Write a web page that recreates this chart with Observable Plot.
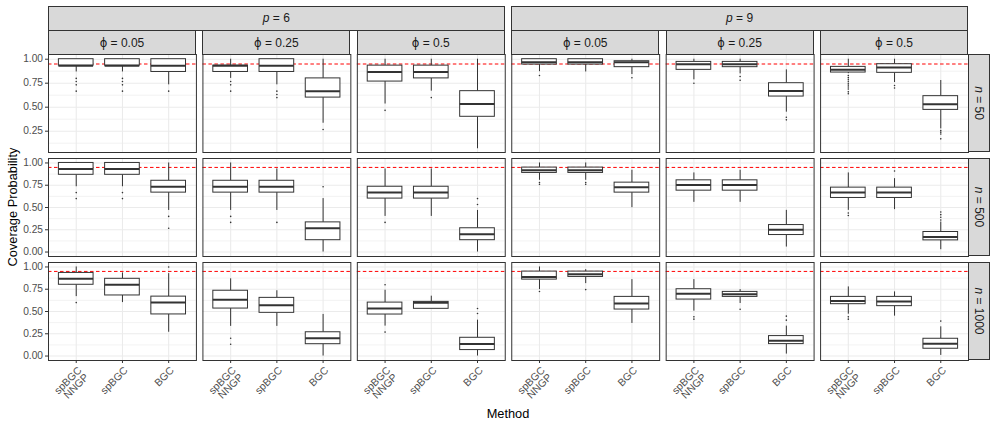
<!DOCTYPE html>
<html><head><meta charset="utf-8">
<script src="https://cdn.jsdelivr.net/npm/d3@7"></script>
<script src="https://cdn.jsdelivr.net/npm/@observablehq/plot@0.6"></script>
<style>
body{margin:0;background:#fff;}
#chart{position:relative;width:996px;height:427px;font-family:"Liberation Sans",Arial,Helvetica,sans-serif;background:#fff;overflow:hidden;}
#chart svg{position:absolute;left:0;overflow:visible;}
.strip{position:absolute;background:#D9D9D9;border:1px solid #333;box-sizing:border-box;display:flex;align-items:center;justify-content:center;font-size:12px;color:#1A1A1A;white-space:nowrap;}
.vstrip span{display:inline-block;transform:rotate(90deg);}
.phi{font-family:"DejaVu Sans",sans-serif;font-size:11.5px;}
.title{position:absolute;font-size:12.8px;color:#000;white-space:nowrap;}
</style>
</head><body><div id="chart"></div>
<script>
const methods = ["spBGC\nNNGP", "spBGC", "BGC"];
const pLevels = [6, 9];
const phiLevels = [0.05, 0.25, 0.5];
const nLevels = [50, 500, 1000];
const nominal = 0.95;
const yTickValues = [0, 0.25, 0.5, 0.75, 1];
const yMinorValues = [0.125, 0.375, 0.625, 0.875];

// order within each n row: p=6 (phi .05, .25, .5), p=9 (phi .05, .25, .5); methods inside
const whiskerLow = [
  0.867,0.867,0.733, 0.8,0.733,0.333, 0.533,0.667,0.067, 0.87,0.867,0.84, 0.785,0.847,0.448, 0.85,0.757,0.274,
  0.733,0.733,0.467, 0.467,0.467,0, 0.4,0.4,0, 0.805,0.805,0.498, 0.558,0.558,0.056, 0.468,0.476,0.026,
  0.667,0.6,0.267, 0.333,0.333,0, 0.336,0.53,0, 0.746,0.813,0.366, 0.504,0.59,0.022, 0.47,0.448,0.007
];
const q1 = [
  0.933,0.933,0.867, 0.867,0.867,0.6, 0.767,0.8,0.4, 0.944,0.944,0.917, 0.889,0.917,0.611, 0.861,0.858,0.472,
  0.867,0.867,0.667, 0.667,0.667,0.133, 0.6,0.6,0.133, 0.888,0.888,0.667, 0.689,0.689,0.191, 0.607,0.607,0.131,
  0.8,0.68,0.467, 0.533,0.485,0.133, 0.466,0.53,0.067, 0.858,0.888,0.522, 0.634,0.664,0.134, 0.582,0.56,0.082
];
const median = [
  0.933,0.933,0.933, 0.933,0.933,0.667, 0.867,0.867,0.533, 0.967,0.967,0.967, 0.948,0.948,0.67, 0.889,0.913,0.531,
  0.933,0.933,0.733, 0.733,0.733,0.267, 0.667,0.667,0.2, 0.918,0.918,0.727, 0.753,0.753,0.251, 0.667,0.667,0.169,
  0.867,0.8,0.6, 0.633,0.571,0.2, 0.534,0.597,0.134, 0.888,0.918,0.59, 0.698,0.694,0.172, 0.619,0.612,0.138
];
const q3 = [
  1,1,1, 0.933,1,0.8, 0.933,0.933,0.667, 1,1,0.979, 0.972,0.972,0.75, 0.92,0.948,0.615,
  1,1,0.8, 0.8,0.8,0.333, 0.733,0.733,0.267, 0.948,0.948,0.779, 0.805,0.805,0.303, 0.723,0.723,0.225,
  0.933,0.867,0.667, 0.733,0.653,0.267, 0.6,0.608,0.205, 0.948,0.948,0.664, 0.75,0.72,0.224, 0.664,0.664,0.194
];
const whiskerHigh = [
  1,1,1, 1,1,1, 1,1,1, 1,1,1, 1,1,0.889, 1,1,0.778,
  1,1,1, 1,0.933,0.6, 0.933,0.933,0.467, 1,1,0.918, 0.888,0.918,0.468, 0.888,0.824,0.337,
  1,0.933,0.925, 0.867,0.733,0.467, 0.739,0.672,0.403, 1,0.97,0.858, 0.858,0.746,0.336, 0.776,0.72,0.328
];
const outliers = [
  [0.8,0.767,0.733,0.667],[0.8,0.767,0.733,0.667],[0.667], [0.767,0.733,0.667],[0.667,0.633,0.6],[0.267], [0.467],[0.6],[], [0.83],[],[0.806], [0.75],[0.82,0.78],[0.396,0.368], [0.83,0.81,0.79,0.77,0.75,0.73,0.71,0.69,0.66,0.64],[0.726,0.7],[0.257,0.24,0.22,0.17],
  [0.667,0.6],[0.667,0.6],[0.4,0.267], [0.4,0.333],[0.333],[0.733], [0.333],[],[0.6,0.533], [0.78,0.76],[0.78,0.76],[], [],[],[], [0.438,0.41],[0.91],[0.45,0.42,0.39,0.36],
  [0.6],[],[1], [0.2,0.133],[],[], [0.8,0.269],[],[0.534,0.478], [0.724],[0.746],[], [0.44,0.414],[0.526],[0.448,0.403], [0.44,0.414],[],[0.392]
];

const panelKeys = [];
pLevels.forEach(p => phiLevels.forEach(phi => panelKeys.push(`p${p}_phi${phi}`)));

const chart = document.getElementById("chart");
const FONT = '"Liberation Sans",Arial,Helvetica,sans-serif';
const rows = [
  {svgTop: 50, mt: 4, mb: 4, ph: 98, domain: [0.028, 1.049]},
  {svgTop: 154, mt: 4, mb: 4, ph: 98, domain: [-0.05, 1.05]},
  {svgTop: 258, mt: 4, mb: 65, ph: 98, domain: [-0.05, 1.05]}
];

let fxScale = null;
rows.forEach((cfg, r) => {
  const boxes = [], outs = [];
  panelKeys.forEach((pk, k) => methods.forEach((m, j) => {
    const i = r * 18 + k * 3 + j;
    boxes.push({panel: pk, method: m, lo: whiskerLow[i], q1: q1[i], med: median[i], q3: q3[i], hi: whiskerHigh[i]});
    outliers[i].forEach(v => outs.push({panel: pk, method: m, y: v}));
  }));
  const inDom = v => v >= cfg.domain[0] && v <= cfg.domain[1];
  const ticks = yTickValues.filter(inDom);
  const minor = yMinorValues.filter(inDom);
  const last = r === rows.length - 1;
  const marks = [
    Plot.ruleY(minor, {stroke: "#EBEBEB", strokeWidth: 0.6}),
    Plot.ruleY(ticks, {stroke: "#EBEBEB", strokeWidth: 1.1}),
    Plot.ruleX(methods, {stroke: "#EBEBEB", strokeWidth: 1.1}),
    Plot.ruleY([nominal], {stroke: "red", strokeWidth: 1, strokeDasharray: "3.5,2.5"}),
    Plot.ruleX(boxes, {fx: "panel", x: "method", y1: "q3", y2: "hi", stroke: "#333", strokeWidth: 1}),
    Plot.ruleX(boxes, {fx: "panel", x: "method", y1: "lo", y2: "q1", stroke: "#333", strokeWidth: 1}),
    Plot.barY(boxes, {fx: "panel", x: "method", y1: "q1", y2: "q3", fill: "white", stroke: "#333", strokeWidth: 1}),
    Plot.tickY(boxes, {fx: "panel", x: "method", y: "med", stroke: "#333", strokeWidth: 2}),
    Plot.dot(outs, {fx: "panel", x: "method", y: "y", r: 0.8, fill: "#333", stroke: null}),
    Plot.frame({stroke: "#333", strokeWidth: 1}),
    Plot.axisY({ticks, tickFormat: d3.format(".2f"), tickSize: 3, tickPadding: 2.5, stroke: "#333", fill: "#4D4D4D", fontSize: 10.2, label: null})
  ];
  if (last) {
    marks.push(Plot.axisX({tickSize: 3, tickFormat: () => "", stroke: "#333", label: null}));
    marks.push(Plot.text(methods, {x: d => d, text: d => d, frameAnchor: "bottom", dy: 5.5, dx: 1, rotate: -45,
      textAnchor: "end", lineAnchor: "top", lineHeight: 0.95, fill: "#4D4D4D", fontSize: 10.4}));
  }
  const plot = Plot.plot({
    width: 996,
    height: cfg.mt + cfg.ph + cfg.mb,
    marginLeft: 48, marginRight: 28, marginTop: cfg.mt, marginBottom: cfg.mb,
    style: {fontFamily: FONT, fontSize: "10.2px", background: "transparent", overflow: "visible"},
    fx: {domain: panelKeys, paddingInner: 0.0421, paddingOuter: 0, round: false, axis: null, label: null},
    x: {domain: methods, paddingInner: 0.25, paddingOuter: 0.225, round: false, label: null, axis: null},
    y: {domain: cfg.domain, label: null},
    marks
  });
  plot.style.top = cfg.svgTop + "px";
  chart.appendChild(plot);
  if (!fxScale) fxScale = plot.scale("fx");

  // right strip for n
  const s = document.createElement("div");
  s.className = "strip vstrip";
  Object.assign(s.style, {left: "968px", width: "22px", top: (cfg.svgTop + cfg.mt) + "px", height: cfg.ph + "px"});
  s.innerHTML = `<span><i>n</i> = ${nLevels[r]}</span>`;
  chart.appendChild(s);
});

// top strips
const bw = fxScale.bandwidth;
pLevels.forEach((p, a) => {
  const keys = panelKeys.slice(a * 3, a * 3 + 3);
  const x0 = fxScale.apply(keys[0]), x1 = fxScale.apply(keys[2]) + bw;
  const s = document.createElement("div");
  s.className = "strip";
  Object.assign(s.style, {left: x0 + "px", width: (x1 - x0) + "px", top: "5.5px", height: "25.5px"});
  s.innerHTML = `<i>p</i>&nbsp;=&nbsp;${p}`;
  chart.appendChild(s);
  keys.forEach((k, b) => {
    const t = document.createElement("div");
    t.className = "strip";
    const x = fxScale.apply(k);
    Object.assign(t.style, {left: x + "px", width: bw + "px", top: "30px", height: "25px"});
    t.innerHTML = `<span class="phi">ϕ</span>&nbsp;=&nbsp;${phiLevels[b]}`;
    chart.appendChild(t);
  });
});

// axis titles
const yt = document.createElement("div");
yt.className = "title";
yt.textContent = "Coverage Probability";
Object.assign(yt.style, {left: "12px", top: "207px", transform: "translate(-50%,-50%) rotate(-90deg)"});
chart.appendChild(yt);
const xt = document.createElement("div");
xt.className = "title";
xt.textContent = "Method";
Object.assign(xt.style, {left: "508px", top: "413px", transform: "translate(-50%,-50%)"});
chart.appendChild(xt);
</script>
</body></html>
